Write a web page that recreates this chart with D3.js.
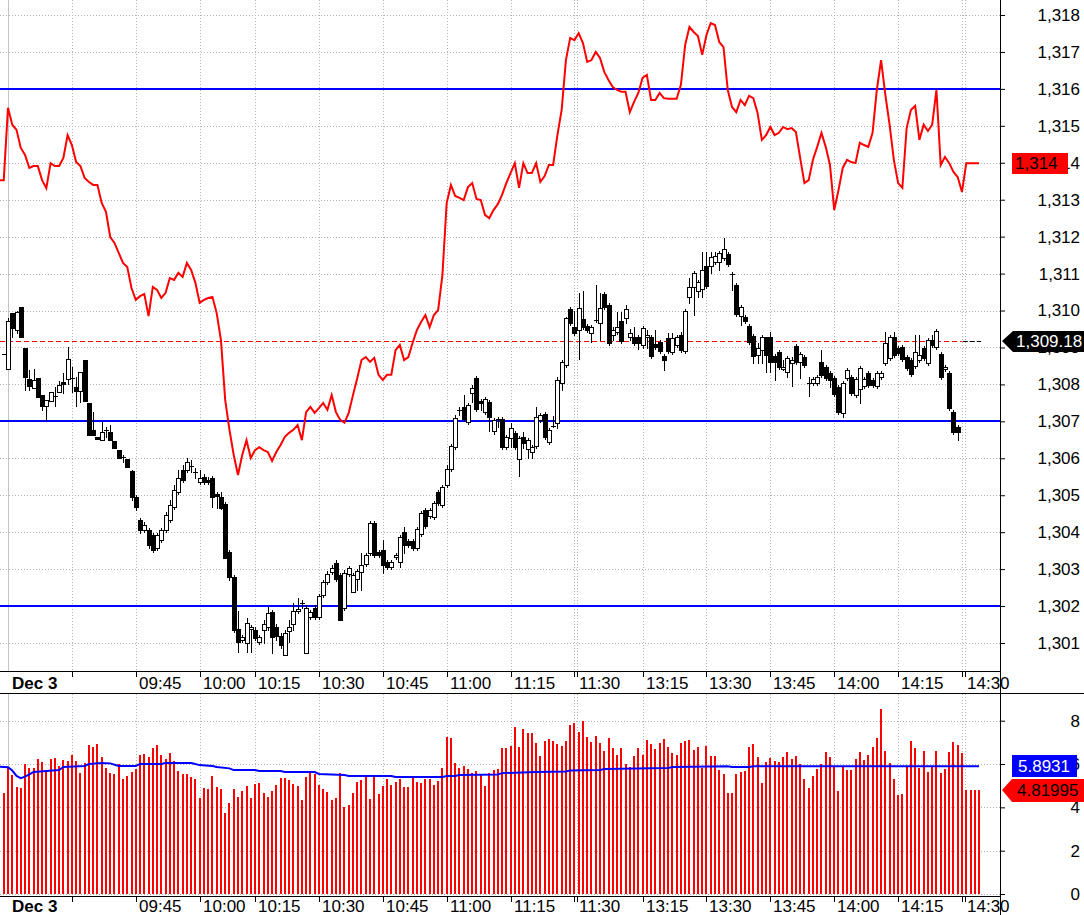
<!DOCTYPE html>
<html>
<head>
<meta charset="utf-8">
<script src="https://cdn.jsdelivr.net/npm/d3@7"></script>
<style>
  html, body { margin: 0; padding: 0; background: #fff; }
  svg { display: block; font-family: "Liberation Sans", Arial, sans-serif; }
</style>
</head>
<body>
<svg id="chart" width="1084" height="915"></svg>
<script>
// ---- data (1-minute bars, Dec 3) ----
// candles start at bar index -1 (last bar of previous session, partly visible)
const candleFirst = -1;
const openP = [
  1308.82, 1308.42, 1309.93, 1309.47, 1310.10, 1308.98, 1308.15, 1307.90, 1308.17, 1307.71,
  1307.42, 1307.55, 1307.69, 1307.80, 1308.07, 1308.15, 1308.17, 1307.93, 1307.82, 1308.66,
  1307.50, 1306.77, 1306.58, 1306.49, 1306.77, 1306.71, 1306.47, 1306.22, 1306.03, 1305.98,
  1305.65, 1304.95, 1304.33, 1304.06, 1304.06, 1303.92, 1303.57, 1303.79, 1304.06, 1304.33,
  1304.68, 1305.09, 1305.68, 1305.68, 1305.79, 1305.60, 1305.36, 1305.49, 1305.41, 1305.46,
  1305.03, 1304.95, 1304.76, 1303.47, 1302.79, 1301.38, 1301.08, 1301.00, 1301.38, 1301.35,
  1301.03, 1301.35, 1301.43, 1301.84, 1301.43, 1301.19, 1300.68, 1301.32, 1301.51, 1301.86,
  1302.08, 1300.73, 1301.70, 1301.95, 1301.70, 1302.30, 1302.65, 1302.92, 1303.17, 1302.84,
  1301.95, 1302.87, 1302.38, 1302.73, 1302.92, 1303.14, 1303.44, 1304.25, 1303.47, 1303.52,
  1303.19, 1303.06, 1303.33, 1303.19, 1304.01, 1303.76, 1303.76, 1303.57, 1303.95, 1304.60,
  1304.44, 1304.41, 1305.09, 1304.73, 1305.28, 1305.71, 1306.30, 1307.31, 1307.39, 1306.98,
  1307.77, 1308.17, 1307.55, 1307.25, 1307.53, 1306.74, 1307.06, 1307.06, 1306.30, 1306.55,
  1306.68, 1305.98, 1306.58, 1306.25, 1306.17, 1306.33, 1307.04, 1307.20, 1306.44, 1306.87,
  1306.96, 1308.04, 1308.53, 1310.04, 1309.55, 1309.47, 1309.77, 1309.58, 1309.39, 1309.74,
  1309.66, 1310.45, 1310.15, 1309.33, 1309.41, 1309.71, 1309.79, 1309.28, 1309.28, 1309.28,
  1309.07, 1309.28, 1309.28, 1309.09, 1309.15, 1308.77, 1309.25, 1308.88, 1309.07, 1309.33,
  1308.90, 1310.37, 1310.64, 1310.53, 1310.58, 1311.20, 1311.20, 1311.31, 1311.31, 1311.42,
  1311.53, 1310.99, 1310.69, 1309.85, 1309.82, 1309.58, 1309.31, 1308.80, 1308.93, 1309.28,
  1309.28, 1308.77, 1308.88, 1308.42, 1308.34, 1308.58, 1309.04, 1308.61, 1308.74, 1308.04,
  1308.04, 1308.04, 1308.61, 1308.47, 1308.31, 1308.17, 1307.93, 1307.23, 1308.17, 1308.20,
  1307.71, 1307.88, 1307.96, 1308.31, 1308.12, 1307.96, 1308.20, 1308.58, 1308.72, 1309.28,
  1308.98, 1309.01, 1308.74, 1308.66, 1308.50, 1308.66, 1308.98, 1308.58, 1309.20, 1309.01,
  1308.82, 1308.42, 1308.31, 1307.25, 1306.85
];
const highP = [
  1308.82, 1309.79, 1309.93, 1309.98, 1310.10, 1308.98, 1308.39, 1308.42, 1308.17, 1307.71,
  1307.58, 1307.80, 1307.93, 1308.09, 1308.31, 1309.01, 1308.47, 1308.20, 1308.34, 1308.66,
  1307.50, 1307.25, 1306.58, 1306.98, 1306.85, 1306.90, 1306.47, 1306.22, 1306.08, 1305.98,
  1305.68, 1305.01, 1304.38, 1304.28, 1304.11, 1303.98, 1303.98, 1304.11, 1304.55, 1304.87,
  1305.28, 1305.68, 1305.82, 1306.00, 1305.95, 1305.73, 1305.68, 1305.57, 1305.49, 1305.52,
  1305.09, 1305.09, 1304.82, 1303.52, 1302.84, 1301.86, 1301.22, 1301.67, 1301.49, 1301.43,
  1301.22, 1301.62, 1301.97, 1301.89, 1301.51, 1301.27, 1301.35, 1301.62, 1302.08, 1302.22,
  1302.16, 1302.03, 1301.89, 1302.03, 1302.33, 1302.71, 1302.95, 1303.11, 1303.25, 1302.89,
  1302.98, 1303.08, 1302.89, 1303.00, 1303.44, 1303.44, 1304.30, 1304.30, 1303.52, 1303.79,
  1303.25, 1303.25, 1303.44, 1303.92, 1304.14, 1303.82, 1303.82, 1304.14, 1304.57, 1304.65,
  1304.65, 1304.84, 1305.14, 1305.28, 1305.82, 1306.39, 1307.17, 1307.39, 1307.71, 1307.50,
  1307.98, 1308.23, 1307.61, 1307.66, 1307.58, 1307.09, 1307.12, 1307.12, 1306.63, 1306.96,
  1306.74, 1306.60, 1306.71, 1306.55, 1306.36, 1307.39, 1307.23, 1307.25, 1306.82, 1307.14,
  1308.20, 1308.66, 1309.82, 1310.10, 1309.98, 1310.48, 1310.53, 1309.63, 1309.60, 1310.69,
  1310.48, 1310.50, 1310.21, 1309.55, 1309.96, 1309.96, 1310.15, 1309.50, 1309.55, 1309.33,
  1309.58, 1309.47, 1309.33, 1309.47, 1309.20, 1308.82, 1309.39, 1309.39, 1309.33, 1309.41,
  1310.04, 1310.88, 1311.07, 1310.83, 1311.58, 1311.58, 1311.58, 1311.58, 1311.61, 1311.96,
  1311.58, 1311.04, 1310.75, 1310.15, 1309.88, 1309.63, 1309.36, 1309.12, 1309.33, 1309.28,
  1309.41, 1308.82, 1308.93, 1308.66, 1308.77, 1308.74, 1309.09, 1308.88, 1308.80, 1308.20,
  1308.20, 1308.26, 1308.93, 1308.53, 1308.36, 1308.23, 1307.98, 1308.09, 1308.45, 1308.26,
  1308.20, 1308.50, 1308.20, 1308.36, 1308.17, 1308.36, 1308.36, 1309.41, 1309.33, 1309.41,
  1309.04, 1309.07, 1308.80, 1308.72, 1309.33, 1309.33, 1309.04, 1309.25, 1309.33, 1309.50,
  1308.87, 1308.53, 1308.36, 1307.31, 1306.90
];
const lowP = [
  1308.82, 1308.42, 1309.28, 1309.39, 1309.28, 1307.85, 1307.85, 1307.90, 1307.66, 1307.31,
  1307.04, 1307.55, 1307.42, 1307.80, 1307.77, 1308.01, 1307.80, 1307.42, 1307.53, 1307.55,
  1306.63, 1306.63, 1306.52, 1306.49, 1306.58, 1306.49, 1306.28, 1306.00, 1305.90, 1305.76,
  1304.87, 1304.60, 1303.98, 1304.01, 1303.57, 1303.47, 1303.52, 1303.74, 1304.01, 1304.28,
  1304.63, 1305.03, 1305.36, 1305.63, 1305.63, 1305.46, 1305.30, 1305.30, 1305.30, 1304.68,
  1304.65, 1304.63, 1303.30, 1302.71, 1301.30, 1300.76, 1301.03, 1300.76, 1300.76, 1301.08,
  1300.97, 1301.00, 1301.35, 1300.73, 1301.08, 1300.87, 1300.68, 1301.03, 1301.35, 1301.81,
  1301.95, 1300.73, 1301.65, 1301.65, 1301.65, 1302.24, 1302.60, 1302.87, 1302.68, 1301.62,
  1301.89, 1302.81, 1302.38, 1302.43, 1302.43, 1303.08, 1303.38, 1303.33, 1303.33, 1302.89,
  1303.00, 1303.00, 1303.27, 1303.06, 1303.44, 1303.60, 1303.52, 1303.52, 1303.90, 1304.11,
  1304.38, 1304.36, 1304.73, 1304.68, 1305.22, 1305.65, 1306.25, 1307.17, 1307.01, 1306.93,
  1307.53, 1307.28, 1307.31, 1307.20, 1306.74, 1306.66, 1306.85, 1306.25, 1306.25, 1306.30,
  1306.25, 1305.52, 1306.28, 1306.00, 1306.00, 1306.28, 1306.98, 1306.52, 1306.39, 1306.85,
  1306.82, 1307.85, 1308.47, 1309.60, 1309.33, 1308.69, 1309.50, 1309.41, 1309.15, 1309.69,
  1309.20, 1310.04, 1309.07, 1309.20, 1309.36, 1309.12, 1309.66, 1309.20, 1309.07, 1308.96,
  1308.98, 1308.98, 1308.71, 1308.96, 1308.85, 1308.39, 1308.85, 1308.82, 1309.01, 1308.88,
  1308.85, 1310.21, 1309.88, 1310.37, 1310.37, 1310.61, 1311.01, 1311.26, 1311.10, 1311.37,
  1311.20, 1310.56, 1309.85, 1309.60, 1309.66, 1309.09, 1308.58, 1308.58, 1308.58, 1308.34,
  1308.34, 1308.12, 1308.42, 1308.39, 1308.20, 1307.96, 1308.55, 1308.17, 1308.47, 1307.69,
  1307.98, 1307.98, 1308.20, 1308.12, 1307.93, 1307.69, 1307.20, 1307.12, 1308.12, 1307.71,
  1307.66, 1307.50, 1307.90, 1307.93, 1307.93, 1307.90, 1308.15, 1308.53, 1308.66, 1308.74,
  1308.80, 1308.63, 1308.39, 1308.23, 1308.45, 1308.61, 1308.66, 1308.53, 1309.01, 1308.96,
  1308.15, 1308.36, 1307.31, 1306.66, 1306.49
];
const closeP = [
  1308.82, 1309.71, 1309.52, 1309.96, 1309.28, 1308.20, 1307.96, 1308.12, 1307.66, 1307.42,
  1307.58, 1307.80, 1307.66, 1307.98, 1308.01, 1308.69, 1308.15, 1307.82, 1308.34, 1307.55,
  1306.63, 1306.63, 1306.52, 1306.71, 1306.74, 1306.49, 1306.28, 1306.00, 1306.00, 1305.76,
  1304.95, 1304.68, 1304.06, 1304.19, 1303.65, 1303.52, 1303.92, 1304.06, 1304.47, 1304.73,
  1305.14, 1305.46, 1305.41, 1305.90, 1305.76, 1305.63, 1305.46, 1305.36, 1305.36, 1304.95,
  1304.98, 1304.65, 1303.30, 1302.79, 1301.35, 1301.03, 1301.16, 1301.54, 1301.43, 1301.14,
  1301.16, 1301.51, 1301.81, 1301.16, 1301.19, 1300.95, 1301.27, 1301.43, 1301.86, 1301.92,
  1302.05, 1301.95, 1301.84, 1301.70, 1302.27, 1302.65, 1302.87, 1303.03, 1302.73, 1301.62,
  1302.89, 1303.03, 1302.84, 1302.95, 1303.11, 1303.38, 1304.25, 1303.38, 1303.38, 1303.11,
  1303.06, 1303.19, 1303.38, 1303.87, 1303.65, 1303.65, 1303.57, 1304.09, 1304.52, 1304.17,
  1304.60, 1304.79, 1304.79, 1305.22, 1305.71, 1306.33, 1307.09, 1307.28, 1307.06, 1307.44,
  1307.90, 1307.33, 1307.50, 1307.61, 1307.12, 1307.04, 1307.04, 1306.30, 1306.58, 1306.82,
  1306.30, 1306.55, 1306.41, 1306.49, 1306.30, 1307.12, 1307.17, 1306.58, 1306.77, 1306.85,
  1308.12, 1308.61, 1309.79, 1309.66, 1309.39, 1310.07, 1309.55, 1309.47, 1309.55, 1309.71,
  1310.07, 1310.10, 1309.12, 1309.47, 1309.55, 1309.18, 1310.04, 1309.39, 1309.12, 1309.12,
  1309.52, 1309.33, 1308.77, 1309.01, 1308.90, 1308.66, 1308.90, 1309.25, 1309.28, 1308.93,
  1309.98, 1310.64, 1311.01, 1310.77, 1311.10, 1310.66, 1311.45, 1311.47, 1311.56, 1311.66,
  1311.26, 1310.99, 1309.90, 1310.10, 1309.71, 1309.15, 1308.77, 1308.98, 1309.28, 1308.80,
  1308.61, 1308.61, 1308.47, 1308.47, 1308.72, 1308.66, 1308.61, 1308.82, 1308.53, 1308.04,
  1308.15, 1308.20, 1308.26, 1308.17, 1308.12, 1307.74, 1307.25, 1308.04, 1308.39, 1307.77,
  1308.15, 1308.45, 1308.15, 1307.98, 1307.98, 1308.31, 1308.31, 1309.12, 1309.28, 1308.80,
  1308.85, 1308.69, 1308.45, 1308.28, 1308.88, 1308.80, 1308.72, 1309.20, 1309.07, 1309.44,
  1308.20, 1308.47, 1307.36, 1306.71, 1306.71
];

// red comparison line, volume and its average start at bar index -2
const lineFirst = -2;
const redLine = [
  1313.53, 1313.53, 1315.49, 1315.03, 1314.89, 1314.40, 1314.21, 1313.86, 1313.91, 1313.91,
  1313.53, 1313.31, 1313.99, 1313.91, 1313.91, 1314.13, 1314.75, 1314.48, 1314.02, 1313.91,
  1313.59, 1313.48, 1313.40, 1313.40, 1312.91, 1312.67, 1311.99, 1311.83, 1311.56, 1311.29,
  1311.18, 1310.61, 1310.29, 1310.39, 1310.45, 1309.85, 1310.64, 1310.56, 1310.34, 1310.48,
  1310.88, 1310.83, 1311.02, 1310.91, 1311.29, 1311.10, 1310.75, 1310.21, 1310.29, 1310.34,
  1310.37, 1309.93, 1309.20, 1307.58, 1306.77, 1306.09, 1305.55, 1306.09, 1306.49, 1306.01,
  1306.22, 1306.30, 1306.22, 1306.17, 1305.93, 1306.17, 1306.36, 1306.58, 1306.69, 1306.77,
  1306.90, 1306.49, 1307.25, 1307.39, 1307.23, 1307.36, 1307.50, 1307.31, 1307.71, 1307.25,
  1307.04, 1306.96, 1307.23, 1307.71, 1308.17, 1308.66, 1308.74, 1308.61, 1308.72, 1308.26,
  1308.12, 1308.26, 1308.26, 1308.93, 1309.07, 1308.66, 1308.74, 1309.12, 1309.47, 1309.69,
  1309.88, 1309.55, 1309.88, 1310.01, 1310.96, 1312.91, 1313.40, 1313.10, 1313.05, 1312.99,
  1313.34, 1313.45, 1313.02, 1312.99, 1312.59, 1312.50, 1312.72, 1312.88, 1313.13, 1313.45,
  1313.72, 1313.99, 1313.32, 1313.99, 1313.72, 1313.72, 1313.99, 1313.48, 1313.64, 1313.94,
  1313.94, 1314.75, 1315.43, 1316.78, 1317.38, 1317.32, 1317.51, 1317.24, 1316.73, 1316.78,
  1317.00, 1316.84, 1316.46, 1316.24, 1316.05, 1315.97, 1315.92, 1315.92, 1315.37, 1315.65,
  1315.89, 1316.30, 1316.38, 1315.70, 1315.70, 1315.89, 1315.75, 1315.73, 1315.73, 1315.73,
  1316.11, 1317.19, 1317.68, 1317.54, 1317.43, 1316.92, 1317.46, 1317.78, 1317.73, 1317.27,
  1317.13, 1315.97, 1315.51, 1315.37, 1315.70, 1315.56, 1315.81, 1315.75, 1315.35, 1314.62,
  1314.75, 1314.97, 1314.75, 1314.81, 1314.97, 1314.91, 1314.94, 1314.83, 1314.13, 1313.45,
  1313.53, 1314.08, 1314.43, 1314.81, 1314.43, 1313.94, 1312.72, 1313.26, 1313.86, 1314.08,
  1314.02, 1313.99, 1314.54, 1314.48, 1314.43, 1314.81, 1315.97, 1316.78, 1315.84, 1315.03,
  1314.08, 1313.45, 1313.32, 1314.94, 1315.43, 1315.54, 1314.62, 1315.03, 1314.86, 1315.03,
  1315.97, 1313.94, 1314.16, 1313.99, 1313.75, 1313.61, 1313.21, 1313.99, 1313.99, 1313.99,
  1313.99
];
const volume = [
  4.65, 4.65, 5.80, 5.49, 4.92, 4.88, 6.00, 5.80, 5.80, 6.23,
  6.09, 5.65, 6.23, 6.28, 5.92, 6.18, 6.12, 6.42, 6.12, 5.60,
  6.05, 6.88, 6.77, 6.92, 6.32, 5.83, 5.60, 5.54, 6.00, 5.31,
  5.45, 5.65, 5.75, 6.42, 6.46, 6.31, 6.72, 6.88, 6.42, 6.22,
  6.49, 6.14, 5.69, 5.54, 5.54, 5.42, 5.29, 4.42, 4.88, 4.85,
  5.45, 4.92, 4.83, 3.72, 4.18, 4.83, 4.46, 4.77, 4.98, 4.45,
  5.08, 5.11, 4.68, 4.46, 4.77, 5.03, 5.34, 5.34, 5.26, 5.08,
  4.98, 4.34, 5.38, 5.60, 5.54, 5.03, 4.83, 4.72, 4.34, 4.42,
  5.57, 4.00, 4.11, 4.65, 5.18, 5.26, 5.42, 4.37, 5.42, 4.62,
  4.98, 5.29, 5.03, 5.18, 5.29, 4.92, 4.92, 5.42, 5.18, 5.11,
  5.29, 5.29, 5.03, 5.22, 5.80, 7.23, 7.18, 6.06, 5.80, 5.91,
  5.77, 5.60, 5.68, 5.54, 4.98, 5.60, 5.72, 5.75, 6.72, 6.72,
  6.83, 7.69, 6.77, 7.60, 7.45, 7.42, 6.95, 6.37, 7.06, 7.14,
  7.06, 6.92, 6.83, 7.06, 7.80, 7.91, 7.49, 8.00, 7.26, 7.03,
  7.31, 6.95, 6.62, 7.20, 6.72, 6.42, 6.72, 6.00, 5.88, 6.37,
  6.72, 6.42, 7.11, 6.92, 6.68, 6.98, 7.14, 6.77, 6.49, 6.42,
  6.95, 7.06, 7.11, 6.65, 6.77, 5.80, 6.83, 6.37, 6.37, 5.72,
  5.54, 4.65, 4.65, 5.54, 5.63, 5.68, 6.77, 6.92, 6.31, 5.14,
  6.11, 6.26, 6.15, 6.11, 6.31, 6.54, 6.22, 6.37, 6.00, 5.29,
  4.88, 5.45, 5.75, 6.00, 6.54, 6.31, 5.92, 4.77, 5.85, 5.72,
  5.72, 6.22, 6.54, 6.18, 6.42, 6.77, 7.18, 8.52, 6.60, 6.06,
  5.29, 4.57, 4.60, 5.92, 7.06, 6.72, 5.80, 6.60, 5.65, 5.92,
  6.60, 5.60, 5.75, 6.54, 7.00, 6.88, 6.52, 4.82, 4.82, 4.82,
  4.81995
];
// moving average of volume, read at the bars where it turns
const maIdx = [-2, 0, 1, 2, 3, 4, 5, 6, 12, 13, 18, 19, 22, 24, 26, 30, 31, 36, 37, 43, 45, 48, 49, 52, 53,
  58, 59, 64, 65, 72, 73, 79, 80, 90, 91, 102, 103, 105, 106, 115, 116, 124, 131, 132, 139, 140, 155, 156,
  169, 170, 174, 175, 228];
const maVal = [5.88, 5.85, 5.70, 5.45, 5.35, 5.42, 5.52, 5.63, 5.72, 5.86, 5.91, 6.00, 6.05, 6.03, 5.91, 5.91,
  6.00, 6.00, 6.05, 6.05, 5.95, 5.91, 5.86, 5.80, 5.72, 5.72, 5.68, 5.68, 5.63, 5.63, 5.54, 5.49, 5.45, 5.45,
  5.40, 5.40, 5.45, 5.45, 5.49, 5.52, 5.58, 5.63, 5.66, 5.70, 5.72, 5.77, 5.82, 5.86, 5.90, 5.86, 5.86, 5.90,
  5.8931];

const levels = [1316, 1307, 1302];   // blue horizontal levels
const refPrice = 1309.18;            // dashed reference line
const priceTicks = d3.range(1301, 1319);
const volTicks = [0, 2, 4, 6, 8];
const timeIdx = [15, 30, 45, 58, 73, 88, 103, 118, 133, 133.7, 149, 164, 179, 194, 209, 224, 224.7];
const timeLab = ["", "09:45", "10:00", "10:15", "10:30", "10:45", "11:00", "11:15", "11:30", "",
  "13:15", "13:30", "13:45", "14:00", "14:15", "14:30", ""];
const dayLabel = "Dec 3";

// ---- layout ----
const plotRight = 1000;
const mainBottom = 671;
const volTop = 694, volBottom = 894;
const stripBottom = 896;

const svg = d3.select("#chart");
const x = d3.scaleLinear().domain([0, 224]).range([8, 962]);
const yP = d3.scaleLinear().domain([1301, 1318]).range([643, 15]);
const yV = d3.scaleLinear().domain([0, 8]).range([894, 720.7]);
const px = v => Math.round(v) + 0.5;

const defs = svg.append("defs");
defs.append("clipPath").attr("id", "clipMain")
  .append("rect").attr("x", 0).attr("y", 0).attr("width", plotRight).attr("height", mainBottom);
defs.append("clipPath").attr("id", "clipVol")
  .append("rect").attr("x", 0).attr("y", volTop).attr("width", plotRight).attr("height", volBottom - volTop + 1);

// ---- grids ----
function grid(g, yVals, yScale, top, bottom) {
  g.selectAll(".hg").data(yVals).join("line")
    .attr("x1", 0).attr("x2", plotRight)
    .attr("y1", d => px(yScale(d))).attr("y2", d => px(yScale(d)))
    .attr("stroke", "#b4b4b4").attr("stroke-dasharray", "1,2");
  g.selectAll(".vg").data(timeIdx).join("line")
    .attr("x1", d => px(x(d))).attr("x2", d => px(x(d)))
    .attr("y1", top).attr("y2", bottom)
    .attr("stroke", "#b4b4b4").attr("stroke-dasharray", "1,2");
  g.append("line")
    .attr("x1", px(x(0))).attr("x2", px(x(0))).attr("y1", top).attr("y2", bottom)
    .attr("stroke", "#c4c4c4");
}
const gMain = svg.append("g").attr("clip-path", "url(#clipMain)");
grid(gMain.append("g"), priceTicks, yP, 0, mainBottom);
const gVol = svg.append("g").attr("clip-path", "url(#clipVol)");
grid(gVol.append("g"), volTicks, yV, volTop, volBottom);

// ---- main panel ----
gMain.selectAll(".level").data(levels).join("line")
  .attr("x1", 0).attr("x2", plotRight)
  .attr("y1", d => Math.round(yP(d))).attr("y2", d => Math.round(yP(d)))
  .attr("stroke", "#0000ff").attr("stroke-width", 2);

const lastCandle = candleFirst + openP.length - 1;
const lastLine = lineFirst + redLine.length - 1;
gMain.append("line")
  .attr("x1", 0).attr("x2", x(lastCandle) + 4)
  .attr("y1", px(yP(refPrice))).attr("y2", px(yP(refPrice)))
  .attr("stroke", "#ff0000").attr("stroke-dasharray", "5,3");
gMain.append("line")
  .attr("x1", x(lastCandle) + 5).attr("x2", x(lastLine) + 2)
  .attr("y1", px(yP(refPrice))).attr("y2", px(yP(refPrice)))
  .attr("stroke", "#000").attr("stroke-dasharray", "5,2");

const candles = openP.map((o, k) => ({
  i: k + candleFirst, o, h: highP[k], l: lowP[k], c: closeP[k]
}));
const gC = gMain.append("g").attr("shape-rendering", "crispEdges");
gC.selectAll(".wick").data(candles).join("line")
  .attr("x1", d => Math.round(x(d.i)) + 0.5).attr("x2", d => Math.round(x(d.i)) + 0.5)
  .attr("y1", d => Math.round(yP(d.h))).attr("y2", d => Math.round(yP(d.l)) + 1)
  .attr("stroke", "#000");
gC.selectAll(".body").data(candles).join("rect")
  .each(function (d) {
    const cx = Math.round(x(d.i));
    const top = Math.round(yP(Math.max(d.o, d.c)));
    const bot = Math.round(yP(Math.min(d.o, d.c)));
    const up = d.c > d.o;
    const el = d3.select(this);
    if (bot - top < 2) {
      el.attr("x", cx - 2).attr("y", top).attr("width", 5).attr("height", 1).attr("fill", "#000");
    } else if (up) {
      el.attr("x", cx - 1.5).attr("y", top + 0.5).attr("width", 4).attr("height", bot - top)
        .attr("fill", "#fff").attr("stroke", "#000");
    } else {
      el.attr("x", cx - 2).attr("y", top).attr("width", 5).attr("height", bot - top + 1)
        .attr("fill", "#000");
    }
  });

gMain.append("path")
  .datum(redLine)
  .attr("fill", "none").attr("stroke", "#ff0000").attr("stroke-width", 2)
  .attr("d", d3.line().x((v, k) => x(k + lineFirst)).y(v => yP(v)));

// ---- volume panel ----
gVol.append("g").attr("shape-rendering", "crispEdges")
  .selectAll("rect").data(volume).join("rect")
  .attr("x", (v, k) => Math.round(x(k + lineFirst)) - 1)
  .attr("y", v => Math.round(yV(v)))
  .attr("width", 2)
  .attr("height", v => Math.round(yV(0)) - Math.round(yV(v)))
  .attr("fill", "#ff0000");
gVol.append("path")
  .datum(maIdx.map((i, k) => [i, maVal[k]]))
  .attr("fill", "none").attr("stroke", "#0000ff").attr("stroke-width", 2)
  .attr("d", d3.line().x(d => x(d[0])).y(d => yV(d[1])));

// ---- axes ----
const fontSize = 17;
function rightAxis(scale, ticks, fmt) {
  const g = svg.append("g").attr("transform", `translate(${plotRight},0)`)
    .call(d3.axisRight(scale).tickValues(ticks).tickFormat(fmt).tickSize(5));
  g.select(".domain").remove();
  g.selectAll(".tick line").attr("stroke", "#000");
  g.selectAll(".tick text").attr("x", 80).attr("text-anchor", "end")
    .attr("font-size", fontSize).attr("font-family", "Liberation Sans, Arial, sans-serif")
    .attr("fill", "#000");
}
rightAxis(yP, priceTicks, d3.format(","));
rightAxis(yV, volTicks, d3.format("d"));

function timeStrip(lineY, baseY) {
  const g = svg.append("g");
  g.append("line").attr("x1", 0).attr("x2", plotRight).attr("y1", lineY + 0.5).attr("y2", lineY + 0.5)
    .attr("stroke", "#000");
  g.selectAll(".tk").data(timeIdx).join("line")
    .attr("x1", d => px(x(d))).attr("x2", d => px(x(d)))
    .attr("y1", lineY).attr("y2", lineY + 6).attr("stroke", "#000");
  g.selectAll(".tl").data(timeIdx.filter((d, k) => timeLab[k] !== "")).join("text")
    .attr("x", d => Math.round(x(d)) + (d === 133 || d === 224 ? 5 : 3))
    .attr("y", baseY)
    .attr("font-size", fontSize)
    .text(d => timeLab[timeIdx.indexOf(d)]);
  g.append("text").attr("x", 12).attr("y", baseY).attr("font-size", fontSize)
    .attr("font-weight", "bold").text(dayLabel);
}
timeStrip(mainBottom, 689);
timeStrip(stripBottom, 912);
svg.append("line").attr("x1", 0).attr("x2", 1084).attr("y1", 693.5).attr("y2", 693.5).attr("stroke", "#000");
svg.append("line").attr("x1", plotRight + 0.5).attr("x2", plotRight + 0.5).attr("y1", 0).attr("y2", 915)
  .attr("stroke", "#000");

// ---- value flags ----
const lastRed = redLine[redLine.length - 1];
svg.append("rect").attr("x", 1012).attr("y", Math.round(yP(lastRed)) - 10).attr("width", 56).attr("height", 21)
  .attr("fill", "#ff0000");
svg.append("text").attr("x", 1015).attr("y", Math.round(yP(lastRed)) + 6).attr("font-size", fontSize)
  .attr("fill", "#000").text(d3.format(",.0f")(lastRed));

const yr = Math.round(yP(refPrice));
svg.append("path").attr("d", `M1002,${yr} L1013,${yr - 10} L1084,${yr - 10} L1084,${yr + 11} L1013,${yr + 11} Z`)
  .attr("fill", "#000");
svg.append("text").attr("x", 1016).attr("y", yr + 6).attr("font-size", fontSize)
  .attr("fill", "#fff").text(d3.format(",.2f")(refPrice));

const lastMa = maVal[maVal.length - 1];
const ym = Math.round(yV(lastMa));
svg.append("rect").attr("x", 1012).attr("y", ym - 11).attr("width", 65).attr("height", 22).attr("fill", "#0000ff");
svg.append("text").attr("x", 1018).attr("y", ym + 6).attr("font-size", fontSize)
  .attr("fill", "#fff").text(String(lastMa));

const lastVol = volume[volume.length - 1];
const yv = Math.round(yV(lastVol));
svg.append("path").attr("d", `M1002,${yv} L1012,${yv - 11} L1084,${yv - 11} L1084,${yv + 12} L1012,${yv + 12} Z`)
  .attr("fill", "#ff0000");
svg.append("text").attr("x", 1017).attr("y", yv + 6).attr("font-size", fontSize)
  .attr("fill", "#000").text(String(lastVol));
</script>
</body>
</html>
